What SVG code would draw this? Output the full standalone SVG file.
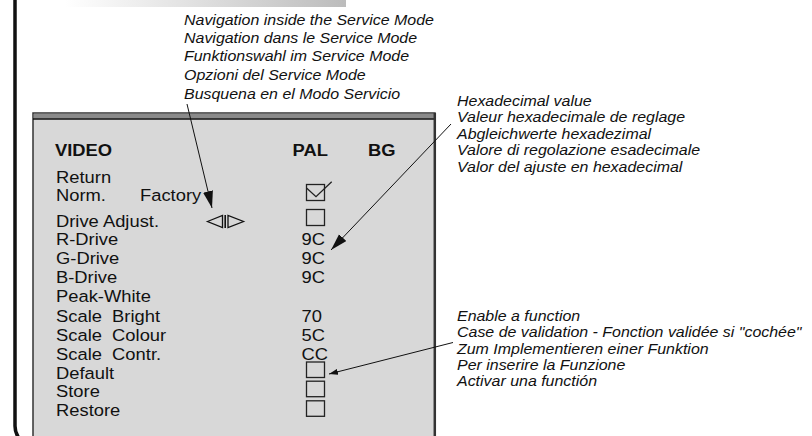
<svg xmlns="http://www.w3.org/2000/svg" width="812" height="436" viewBox="0 0 812 436">
<style>
.menu{font-family:"Liberation Sans",Arial,sans-serif;font-size:17px;fill:#111}
.bold{font-weight:bold}
.note{font-family:"Liberation Sans",Arial,sans-serif;font-size:14.5px;font-style:italic;fill:#111}
.box{fill:none;stroke:#222;stroke-width:1.3}
.conn{stroke:#111;stroke-width:1;fill:none}
</style>
<defs>
<linearGradient id="band" x1="0" y1="0" x2="1" y2="0">
<stop offset="0" stop-color="#ffffff"/>
<stop offset="1" stop-color="#bcbcbc"/>
</linearGradient>
<marker id="headL" markerUnits="userSpaceOnUse" markerWidth="18" markerHeight="11" refX="17" refY="5" orient="auto">
<path d="M0,0 L17,5 L0,10 z" fill="#111"/>
</marker>
<marker id="headS" markerUnits="userSpaceOnUse" markerWidth="10" markerHeight="6" refX="9" refY="3" orient="auto">
<path d="M0,0 L9,3 L0,6 z" fill="#111"/>
</marker>
</defs>
<rect width="812" height="436" fill="#ffffff"/>
<g id="frame">
<rect x="65" y="0" width="281" height="7" fill="url(#band)"/>
<path d="M15,0 V426 Q15,436 23,442" fill="none" stroke="#111" stroke-width="3.5"/>
</g>
<g id="screen">
<rect x="33" y="113" width="402" height="340" fill="#d8d8d8" stroke="#333" stroke-width="1.5"/>
<rect x="33.8" y="113.8" width="400.4" height="4.8" fill="#8a8a8a"/>
<line x1="33" y1="119" x2="435" y2="119" stroke="#111" stroke-width="1.5"/>
<line x1="434.8" y1="113" x2="434.8" y2="436" stroke="#333" stroke-width="2.5"/>
</g>
<g id="menu-labels" transform="translate(56,0) scale(1.08,1)">
<text class="menu bold" x="-1" y="156">VIDEO</text>
<text class="menu" x="0" y="183.5">Return</text>
<text class="menu" x="0" y="201">Norm.</text>
<text class="menu" x="0" y="227.5">Drive Adjust.</text>
<text class="menu" x="0" y="245.5">R-Drive</text>
<text class="menu" x="0" y="264">G-Drive</text>
<text class="menu" x="0" y="283">B-Drive</text>
<text class="menu" x="0" y="302.5">Peak-White</text>
<text class="menu" x="0" y="322" xml:space="preserve">Scale  Bright</text>
<text class="menu" x="0" y="341" xml:space="preserve">Scale  Colour</text>
<text class="menu" x="0" y="360" xml:space="preserve">Scale  Contr.</text>
<text class="menu" x="0" y="379">Default</text>
<text class="menu" x="0" y="397.5">Store</text>
<text class="menu" x="0" y="416">Restore</text>
</g>
<g id="factory" transform="translate(140,0) scale(1.08,1)">
<text class="menu" x="0" y="201">Factory</text>
</g>
<g id="standard" transform="translate(292.5,0) scale(1.08,1)">
<text class="menu bold" x="0" y="156">PAL</text>
<text class="menu bold" x="70" y="156">BG</text>
</g>
<g id="values" transform="translate(301.5,0) scale(1.08,1)">
<text class="menu" x="0" y="245.5">9C</text>
<text class="menu" x="0" y="264">9C</text>
<text class="menu" x="0" y="283">9C</text>
<text class="menu" x="0" y="322">70</text>
<text class="menu" x="0" y="341">5C</text>
<text class="menu" x="0" y="360">CC</text>
</g>
<g id="checkboxes">
<rect class="box" x="306.5" y="184.5" width="18" height="16"/>
<polyline class="box" points="306.8,188.3 316,196.7 331.7,181.7"/>
<rect class="box" x="306.5" y="209.5" width="18" height="16"/>
<rect class="box" x="306.5" y="362" width="18" height="15.5"/>
<rect class="box" x="306.5" y="381.2" width="18" height="15.5"/>
<rect class="box" x="306.5" y="400.8" width="18" height="15.5"/>
</g>
<g id="nav-symbol" fill="none" stroke="#111" stroke-width="1.3">
<polygon points="207.5,221.5 222.5,215.5 222.5,227.5"/>
<line x1="225.2" y1="215" x2="225.2" y2="228" stroke-width="1.6"/>
<polygon points="228,215.5 228,227.5 243.5,221.5"/>
</g>
<g id="note-navigation" transform="translate(184,0) scale(1.1,1)">
<text class="note" x="0" y="25">Navigation inside the Service Mode</text>
<text class="note" x="0" y="43">Navigation dans le Service Mode</text>
<text class="note" x="0" y="61.5">Funktionswahl im Service Mode</text>
<text class="note" x="0" y="80">Opzioni del Service Mode</text>
<text class="note" x="0" y="99">Busquena en el Modo Servicio</text>
</g>
<g id="note-hex" transform="translate(457,0) scale(1.1,1)">
<text class="note" x="0" y="106">Hexadecimal value</text>
<text class="note" x="0" y="122.4">Valeur hexadecimale de reglage</text>
<text class="note" x="0" y="138.8">Abgleichwerte hexadezimal</text>
<text class="note" x="0" y="155.2">Valore di regolazione esadecimale</text>
<text class="note" x="0" y="171.6">Valor del ajuste en hexadecimal</text>
</g>
<g id="note-enable" transform="translate(457,0) scale(1.1,1)">
<text class="note" x="0" y="321">Enable a function</text>
<text class="note" x="0" y="337.3">Case de validation - Fonction validée si "cochée"</text>
<text class="note" x="0" y="353.6">Zum Implementieren einer Funktion</text>
<text class="note" x="0" y="370">Per inserire la Funzione</text>
<text class="note" x="0" y="386.3">Activar una functión</text>
</g>
<g id="connectors">
<line class="conn" x1="187" y1="104" x2="212" y2="208" marker-end="url(#headL)"/>
<line class="conn" x1="451" y1="124" x2="331" y2="250" marker-end="url(#headL)"/>
<line class="conn" x1="453" y1="342.5" x2="329" y2="374" marker-end="url(#headS)"/>
</g>
</svg>
